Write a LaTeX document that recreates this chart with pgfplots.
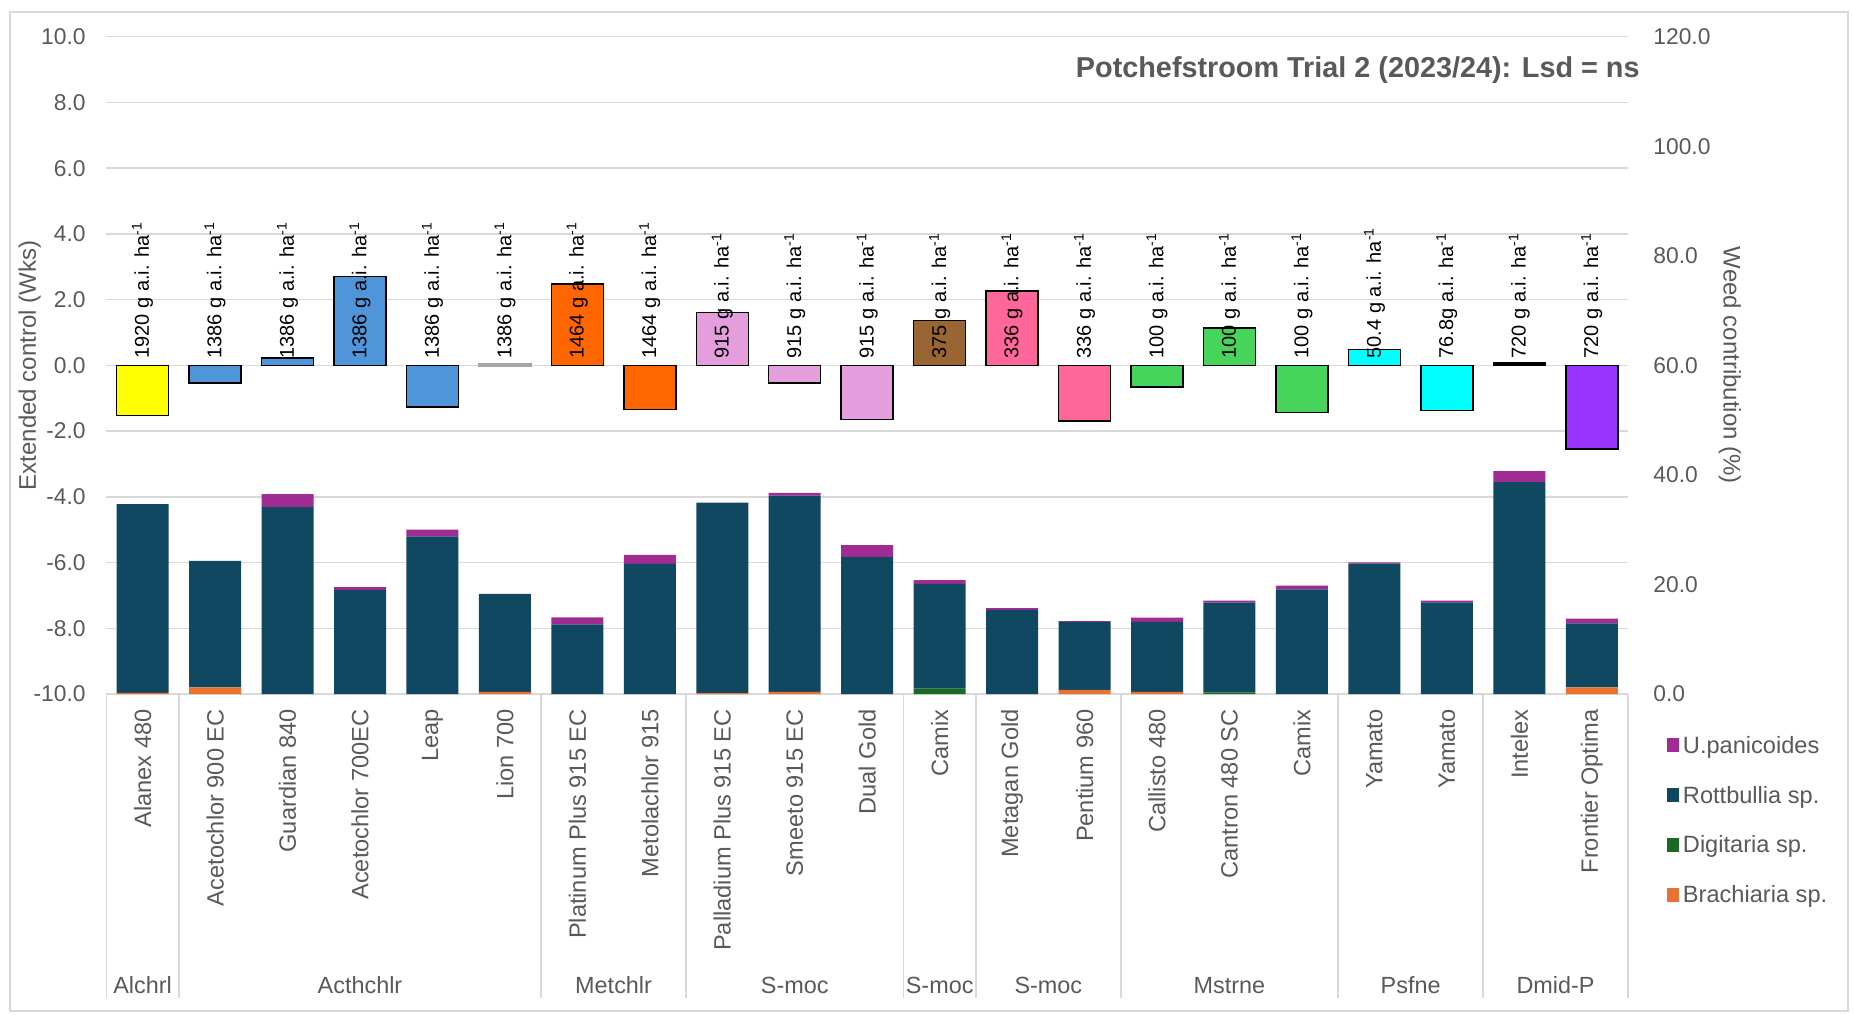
\documentclass[border=0pt]{standalone}
\usepackage{fontspec}
\setmainfont{Liberation Sans}
\usepackage{pgfplots}
\usepackage{pgfplotstable}
\pgfplotsset{compat=1.18}
\definecolor{txtgray}{HTML}{595959}
\definecolor{gridgray}{HTML}{D9D9D9}
\definecolor{cYellow}{HTML}{FFFF00}
\definecolor{cBlue}{HTML}{4E95D9}
\definecolor{cOrange}{HTML}{FF6600}
\definecolor{cPlum}{HTML}{E49EDD}
\definecolor{cBrown}{HTML}{996633}
\definecolor{cPink}{HTML}{FF6699}
\definecolor{cGreen}{HTML}{47D45A}
\definecolor{cCyan}{HTML}{00FFFF}
\definecolor{cPurple}{HTML}{9933FF}
\definecolor{cUpan}{HTML}{A02B93}
\definecolor{cRott}{HTML}{104862}
\definecolor{cDigi}{HTML}{196B24}
\definecolor{cBrach}{HTML}{E97132}
\definecolor{cLion}{HTML}{A6A6A6}
\newcommand\fTick{\fontsize{11.4}{13}\selectfont}
\newcommand\fCat{\fontsize{11.8}{14}\selectfont}
\newcommand\fLab{\fontsize{12}{14}\selectfont}
\newcommand\fLeg{\fontsize{11.8}{14}\selectfont}
\newcommand\fVal{\fontsize{10}{12}\selectfont}
\newcommand\fTitle{\fontsize{14.4}{17}\selectfont}
\newcommand\fGroup{\fontsize{11.7}{14}\selectfont}

\pgfplotstableread{
x brach digi rott upan
0 0.2 0 34.45 0
1 1.2 0 23.1 0
2 0 0 34.1 2.4
3 0 0 19.0 0.5
4 0 0 28.8 1.2
5 0.4 0 17.9 0
6 0 0 12.7 1.3
7 0 0 23.75 1.65
8 0.15 0 34.8 0
9 0.4 0 35.8 0.5
10 0 0 25.0 2.2
11 0 1.0 19.1 0.7
12 0 0 15.35 0.35
13 0.75 0 12.4 0.15
14 0.4 0 12.75 0.8
15 0 0.3 16.4 0.35
16 0 0 19.1 0.7
17 0 0 23.8 0.25
18 0 0 16.75 0.3
19 0 0 38.7 2.0
20 1.2 0 11.7 0.85
}\stacktable

\pgfplotsset{
  sqlegend/.style={legend image code/.code={\fill[##1] (0pt,-2.5pt) rectangle (6pt,4.5pt);}},
  lbar/.style={draw=black, line width=0.75pt, bar shift=0pt},
}

\begin{document}
\begin{tikzpicture}
\path[use as bounding box] (-53.2pt,-160pt) rectangle (873.8pt,347pt);
\draw[gridgray, line width=0.75pt] (-48.2pt,-158.5pt) rectangle (870.8pt,341pt);

\begin{axis}[
  at={(0,0)}, anchor=south west,
  width=760.8pt, height=328.65pt, scale only axis,
  xmin=-0.5, xmax=20.5, ymin=-10, ymax=10,
  ybar, bar width=26pt,
  axis line style={draw=none},
  tick align=outside,
  major tick length=0pt,
  xtick pos=left, ytick pos=left,
  xtick={0,...,20},
  xticklabels={Alanex 480, Acetochlor 900 EC, Guardian 840, Acetochlor 700EC, Leap, Lion 700, Platinum Plus 915 EC, Metolachlor 915, Palladium Plus 915 EC, Smeeto 915 EC, Dual Gold, Camix, Metagan Gold, Pentium 960, Callisto 480, Cantron 480 SC, Camix, Yamato, Yamato, Intelex, Frontier Optima},
  xticklabel style={rotate=90, anchor=east, font=\fCat, text=txtgray, inner sep=0pt},
  xticklabel shift=7.5pt,
  extra x ticks={-0.5,0.5,5.5,7.5,10.5,11.5,13.5,16.5,18.5,20.5},
  extra x tick labels={},
  extra x tick style={major tick length=152pt, tick style={gridgray, line width=0.75pt}},
  ytick={-10,-8,...,10},
  yticklabel={\pgfmathprintnumber[assume math mode=true,fixed,fixed zerofill,precision=1]{\tick}},
  yticklabel style={font=\fTick, text=txtgray, inner sep=0pt, xshift=-10.2pt},
  ymajorgrids, grid style={gridgray, line width=0.75pt},
  ylabel={Extended control (Wks)},
  every axis y label/.style={at={(axis description cs:-0.0505,0.5)}, rotate=90, anchor=center, font=\fLab, text=txtgray},
]
\addplot[lbar, fill=cYellow] coordinates {(0,-1.52)};
\addplot[lbar, fill=cBlue] coordinates {(1,-0.53) (2,0.23) (3,2.71) (4,-1.27)};
\addplot[bar shift=0pt, line width=1.2pt, draw=cLion, fill=cLion] coordinates {(5,0.03)};
\addplot[lbar, fill=cOrange] coordinates {(6,2.47) (7,-1.35)};
\addplot[lbar, fill=cPlum] coordinates {(8,1.61) (9,-0.54) (10,-1.64)};
\addplot[lbar, fill=cBrown] coordinates {(11,1.37)};
\addplot[lbar, fill=cPink] coordinates {(12,2.26) (13,-1.70)};
\addplot[lbar, fill=cGreen] coordinates {(14,-0.66) (15,1.13) (16,-1.43)};
\addplot[lbar, fill=cCyan] coordinates {(17,0.48) (18,-1.37)};
\addplot[lbar, fill=black] coordinates {(19,0.07)};
\addplot[lbar, fill=cPurple] coordinates {(20,-2.54)};
\addplot[draw=none, fill=none, bar shift=0pt, nodes near coords, point meta=explicit symbolic,
  every node near coord/.append style={rotate=90, anchor=west, inner sep=0pt, font=\fVal, text=black}]
coordinates {
(0,0.2) [1920 g a.i. ha\textsuperscript{-1}]
(1,0.2) [1386 g a.i. ha\textsuperscript{-1}]
(2,0.2) [1386 g a.i. ha\textsuperscript{-1}]
(3,0.2) [1386 g a.i. ha\textsuperscript{-1}]
(4,0.2) [1386 g a.i. ha\textsuperscript{-1}]
(5,0.2) [1386 g a.i. ha\textsuperscript{-1}]
(6,0.2) [1464 g a.i. ha\textsuperscript{-1}]
(7,0.2) [1464 g a.i. ha\textsuperscript{-1}]
(8,0.2) [915 g a.i. ha\textsuperscript{-1}]
(9,0.2) [915 g a.i. ha\textsuperscript{-1}]
(10,0.2) [915 g a.i. ha\textsuperscript{-1}]
(11,0.2) [375 g a.i. ha\textsuperscript{-1}]
(12,0.2) [336 g a.i. ha\textsuperscript{-1}]
(13,0.2) [336 g a.i. ha\textsuperscript{-1}]
(14,0.2) [100 g a.i. ha\textsuperscript{-1}]
(15,0.2) [100 g a.i. ha\textsuperscript{-1}]
(16,0.2) [100 g a.i. ha\textsuperscript{-1}]
(17,0.2) [50.4 g a.i. ha\textsuperscript{-1}]
(18,0.2) [76.8g a.i. ha\textsuperscript{-1}]
(19,0.2) [720 g a.i. ha\textsuperscript{-1}]
(20,0.2) [720 g a.i. ha\textsuperscript{-1}]
};
\end{axis}

\begin{axis}[
  at={(0,0)}, anchor=south west,
  width=760.8pt, height=328.65pt, scale only axis,
  xmin=-0.5, xmax=20.5, ymin=0, ymax=120,
  ybar stacked, bar width=26pt,
  clip=false,
  axis y line*=right, axis x line*=bottom,
  axis line style={draw=none},
  major tick length=0pt,
  ytick={0,20,...,120},
  yticklabel={\pgfmathprintnumber[assume math mode=true,fixed,fixed zerofill,precision=1]{\tick}},
  yticklabel style={font=\fTick, text=txtgray, inner sep=0pt, xshift=12.5pt},
  xtick={0,3,6.5,9,11,12.5,15,17.5,19.5},
  xticklabels={Alchrl,Acthchlr,Metchlr,S-moc,S-moc,S-moc,Mstrne,Psfne,Dmid-P},
  xticklabel style={font=\fGroup, text=txtgray, anchor=base, inner sep=0pt, yshift=-149.7pt},
  ylabel={Weed contribution (\%)},
  every axis y label/.style={at={(axis description cs:1.067,0.5)}, rotate=-90, anchor=center, font=\fLab, text=txtgray},
  legend style={at={(1.0256,-0.0645)}, anchor=north west, draw=none, fill=none, inner sep=0pt, outer sep=0pt,
    row sep=13.85pt, column sep=2pt, font=\fLeg, text=txtgray,
    nodes={inner sep=0pt, text height=8.5pt, text depth=2.5pt}},
  legend cell align=left,
  reverse legend,
]
\addplot[sqlegend, fill=cBrach, draw=none] table[x=x, y=brach]{\stacktable};
\addplot[sqlegend, fill=cDigi, draw=none] table[x=x, y=digi]{\stacktable};
\addplot[sqlegend, fill=cRott, draw=none] table[x=x, y=rott]{\stacktable};
\addplot[sqlegend, fill=cUpan, draw=none] table[x=x, y=upan]{\stacktable};
\legend{Brachiaria sp., Digitaria sp., Rottbullia sp., U.panicoides}
\node[anchor=base east, inner sep=0pt, font=\fTitle\bfseries, text=txtgray] at (rel axis cs:1.0079,0.9376) {Potchefstroom Trial 2 (2023/24): Lsd = ns};
\end{axis}
\end{tikzpicture}
\end{document}
